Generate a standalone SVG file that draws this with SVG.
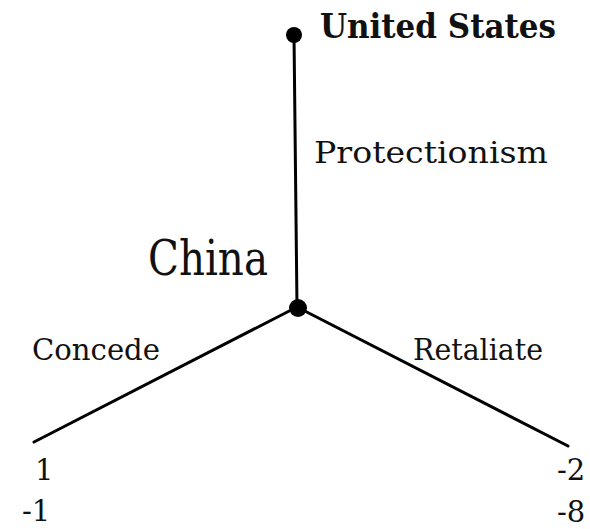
<svg xmlns="http://www.w3.org/2000/svg" width="590" height="529" viewBox="0 0 590 529">
<style>
.edge{stroke:#000;stroke-width:3;fill:none;stroke-linecap:round}
.dot{fill:#000}
.t{font-family:'DejaVu Serif','Liberation Serif',serif;fill:#111}
.lbl{font-size:29px}
.num{font-size:29px}
</style>
<rect width="590" height="529" fill="#fff"/>
<g id="connectors">
<line class="edge" x1="294" y1="35" x2="297" y2="307"/>
<line class="edge" x1="297" y1="307" x2="34" y2="442"/>
<line class="edge" x1="297" y1="307" x2="568" y2="446"/>
<text class="t lbl" x="314" y="163" textLength="234" lengthAdjust="spacingAndGlyphs">Protectionism</text>
<text class="t lbl" x="32" y="360" textLength="128" lengthAdjust="spacingAndGlyphs">Concede</text>
<text class="t lbl" x="413" y="360" textLength="130" lengthAdjust="spacingAndGlyphs">Retaliate</text>
</g>
<g id="node-us">
<circle class="dot" cx="294" cy="35" r="8"/>
<text class="t" x="320" y="38" font-size="34" font-weight="bold" textLength="236" lengthAdjust="spacingAndGlyphs">United States</text>
</g>
<g id="node-china">
<circle class="dot" cx="298" cy="308" r="9"/>
<text class="t" x="148" y="275" font-size="48" textLength="120" lengthAdjust="spacingAndGlyphs">China</text>
</g>
<g id="leaf-concede">
<text class="t num" x="35" y="480">1</text>
<text class="t num" x="22" y="521">-1</text>
</g>
<g id="leaf-retaliate">
<text class="t num" x="557" y="480">-2</text>
<text class="t num" x="557" y="522">-8</text>
</g>
</svg>
